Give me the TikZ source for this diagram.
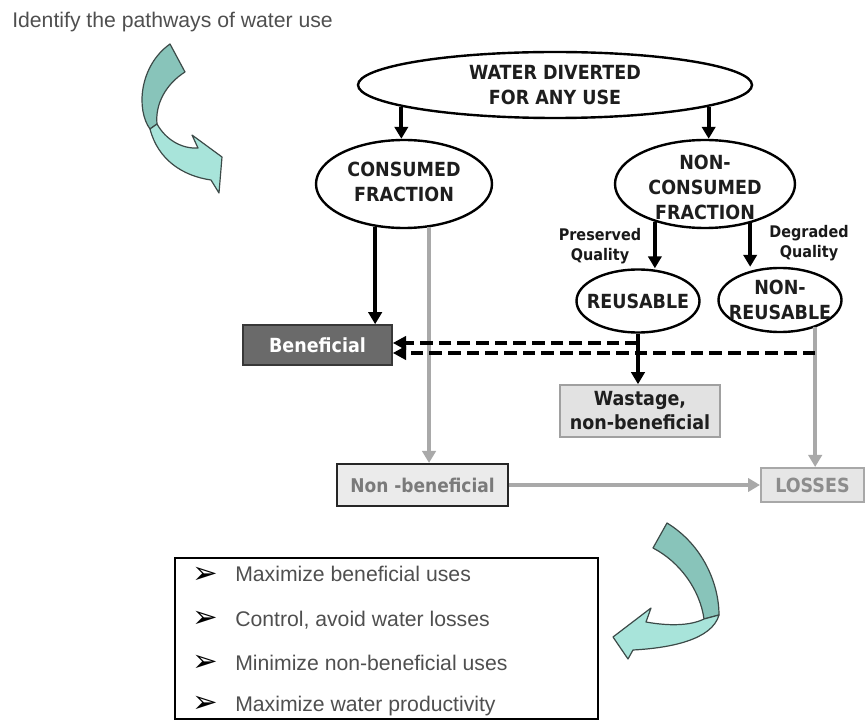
\documentclass[tikz,border=0pt]{standalone}
\usepackage{fontspec}
\setmainfont{Liberation Sans}
\newfontfamily\condfont{DejaVu Sans Condensed}
\newfontfamily\symfont{DejaVu Sans}
\usetikzlibrary{arrows.meta,shapes.geometric}

\definecolor{ink}{HTML}{1E1E1E}
\definecolor{greytext}{HTML}{4F4F4F}
\definecolor{flowgrey}{HTML}{A9A9A9}
\definecolor{benfill}{HTML}{6A6A6A}
\definecolor{benedge}{HTML}{383838}
\definecolor{palefill}{HTML}{EBEBEB}
\definecolor{lossfill}{HTML}{E6E6E6}
\definecolor{lossedge}{HTML}{A8A8A8}
\definecolor{wastfill}{HTML}{E2E2E2}
\definecolor{wastedge}{HTML}{A0A0A0}
\definecolor{tealdark}{HTML}{88C4BA}
\definecolor{teallight}{HTML}{A8E4DA}
\definecolor{tealedge}{HTML}{3C4A48}

\tikzset{
  ovalbox/.style={draw=black, line width=1.8pt, ellipse, inner sep=0pt},
  ovaltext/.style={font=\condfont\bfseries\fontsize{14.6}{18.75}\selectfont,
    text=ink, align=center, inner sep=0pt},
  sidelabel/.style={font=\condfont\bfseries\fontsize{12}{15.5}\selectfont,
    text=ink!85!black, align=center, inner sep=0pt},
  blackflow/.style={draw=black, line width=3pt, -{Triangle[length=9pt,width=10pt]}},
  greyflow/.style={draw=flowgrey, line width=3pt, -{Triangle[length=9pt,width=10pt]}},
  dashflow/.style={draw=black, line width=3pt, dash pattern=on 9.5pt off 4.5pt,
    -{Triangle[length=10pt,width=10pt]}},
  fatebox/.style={rectangle, inner sep=0pt, align=center,
    font=\condfont\bfseries\fontsize{14.6}{18}\selectfont},
  tealpart/.style={draw=tealedge, line width=0.9pt, line join=round},
  goaltext/.style={anchor=base west, inner sep=0pt, text=greytext,
    font=\fontsize{15.9}{19}\selectfont},
  goalmark/.style={anchor=west, inner sep=0pt, text=black,
    font=\symfont\fontsize{23}{23}\selectfont},
}

\begin{document}
\begin{tikzpicture}[x=0.75pt,y=-0.75pt]
\useasboundingbox (0,0) rectangle (865,720);

% heading
\node[goaltext, text=greytext] (title) at (12,28) {Identify the pathways of water use};

% curved pointer, top left
\path[tealpart, fill=tealdark] (170,44) -- (185,72)
  .. controls (166,84) and (155,104) .. (157,124) -- (150,129)
  .. controls (136,110) and (139,66) .. (170,44) -- cycle;
\path[tealpart, fill=teallight] (157,124)
  .. controls (166,140) and (182,149) .. (198,148)
  -- (192,135) -- (222,157) -- (219,193) -- (211,180)
  .. controls (183,176) and (158,160) .. (150,129) -- cycle;

% ovals
\node[ovalbox, minimum width=295.5pt, minimum height=49.5pt] (top) at (555,85) {};
\node[ovaltext] (toptext) at (555,85) {WATER DIVERTED\\FOR ANY USE};

\node[ovalbox, minimum width=132pt, minimum height=66pt] (cons) at (404,184) {};
\node[ovaltext] (constext) at (404,181.5) {CONSUMED\\FRACTION};

\node[ovalbox, minimum width=135pt, minimum height=66pt] (ncons) at (705,184) {};
\node[ovaltext] (nconstext) at (705,187) {NON-\\CONSUMED\\FRACTION};

\node[ovalbox, minimum width=92.25pt, minimum height=47.25pt] (reus) at (638,301) {};
\node[ovaltext] (reustext) at (638,301) {REUSABLE};

\node[ovalbox, minimum width=92.25pt, minimum height=48pt] (nreus) at (780,300) {};
\node[ovaltext] (nreustext) at (780,300) {NON-\\REUSABLE};

% quality labels
\node[sidelabel] (pres) at (600,246) {Preserved\\Quality};
\node[sidelabel] (degr) at (809,243) {Degraded\\Quality};

% destination boxes
\node[fatebox, draw=benedge, line width=1.2pt, fill=benfill, text=white,
  minimum width=111.75pt, minimum height=30pt] (ben) at (317.5,345) {Beneficial};
\node[fatebox, draw=black!85, line width=1.5pt, fill=palefill, text=black!52,
  font=\condfont\bfseries\fontsize{14.2}{18}\selectfont,
  minimum width=128.25pt, minimum height=31.5pt] (nonben) at (422.5,485) {Non -beneficial};
\node[fatebox, draw=lossedge, line width=1.5pt, fill=lossfill, text=black!45,
  minimum width=77.25pt, minimum height=25.5pt] (loss) at (812.5,485) {LOSSES};
\node[fatebox, draw=wastedge, line width=1.2pt, fill=wastfill, text=ink,
  minimum width=120pt, minimum height=39pt] (wast) at (640,411) {Wastage,\\non-beneficial};

% flows
\draw[blackflow] (top.188) -- (top.188 |- cons.north);
\draw[blackflow] (top.352) -- (top.352 |- ncons.north);
\draw[blackflow] (cons.236) -- (cons.236 |- ben.north);
\draw[greyflow] (cons.300) -- (cons.300 |- nonben.north);
\draw[blackflow] (ncons.217) -- (ncons.217 |- reus.north);
\draw[blackflow] (ncons.319) -- (ncons.319 |- nreus.north);
\draw[greyflow] (nreus.322) -- (nreus.322 |- loss.north);
\draw[greyflow] (nonben.east) -- (loss.west);

% recovered flows back to beneficial use
\coordinate (reusetap) at (reus.south |- 0,343);
\coordinate (nreusetap) at (nreus.322 |- 0,353);
\draw[dashflow] (nreusetap) -- (nreusetap -| ben.east);
\draw[dashflow] (reusetap) -- (reusetap -| ben.east);
\draw[blackflow] (reus.south) -- (reus.south |- wast.north);

% curved pointer, bottom right
\path[tealpart, fill=tealdark] (667,523) -- (653,548)
  .. controls (680,562) and (700,590) .. (704,619) -- (719,615)
  .. controls (719,584) and (703,545) .. (667,523) -- cycle;
\path[tealpart, fill=teallight] (704,619)
  .. controls (690,626) and (668,626) .. (646,622)
  -- (651,608) -- (613,637) -- (628,659) -- (633,650)
  .. controls (670,648) and (712,640) .. (719,615) -- cycle;

% goals
\node[draw=black, line width=2.2pt, minimum width=317.25pt, minimum height=120.75pt,
  inner sep=0pt] (goals) at (386.5,638.5) {};
\node[goalmark] (m1) at (192,575) {➢};
\node[goalmark] (m2) at (192,619.5) {➢};
\node[goalmark] (m3) at (192,663.5) {➢};
\node[goalmark] (m4) at (192,704.5) {➢};
\node[goaltext] (g1) at (235,581.5) {Maximize beneficial uses};
\node[goaltext] (g2) at (235,626.5) {Control, avoid water losses};
\node[goaltext] (g3) at (235,670.5) {Minimize non-beneficial uses};
\node[goaltext] (g4) at (235,711.5) {Maximize water productivity};
\end{tikzpicture}
\end{document}
